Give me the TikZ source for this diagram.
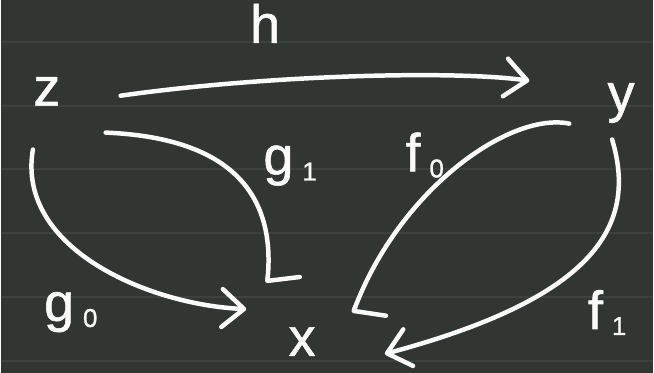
\documentclass[tikz,border=0pt]{standalone}
\usepackage{fontspec}
\setmainfont{Liberation Sans}
\newfontfamily\chalkfont{Liberation Sans}[FakeBold=1.0]
\usetikzlibrary{arrows.meta}
\definecolor{boardbg}{HTML}{323633}
\definecolor{ruleline}{HTML}{3E423F}
\definecolor{chalk}{HTML}{FAFAFA}
\newcommand\lsub[1]{\,\raisebox{-6pt}{\fontsize{26}{26}\selectfont #1}}

\begin{document}
\begin{tikzpicture}[x=1pt, y=-1pt,
  obj/.style={font=\chalkfont\fontsize{54}{54}\selectfont, text=chalk, inner sep=0pt, anchor=base},
  lbl/.style={obj},
  map/.style={-{Straight Barb[length=22pt, width=38pt, round]}, line width=4.5pt, draw=chalk, line cap=round},
  hook/.style={-{Straight Barb[left, length=7pt, width=64pt, round]}, line width=4.5pt, draw=chalk, line cap=round},
]
  % ruled board
  \fill[boardbg] (0,0) rectangle (654,374);
  \foreach \y in {42,106,...,362}
    \draw[ruleline, line width=2pt] (0,\y) -- (654,\y);
  \useasboundingbox (0,0) rectangle (654,374);

  % objects
  \node[obj] (z) at (46,106)  {z};
  \node[obj] (y) at (622,112) {y};
  \node[obj] (x) at (302,357) {x};

  % map labels
  \node[lbl] (h)  at (265,43)  {h};
  \node[lbl] (g0) at (70,322)  {g\lsub{0}};
  \node[lbl] (g1) at (290,175) {g\lsub{1}};
  \node[lbl] (f0) at (425,172) {f\lsub{0}};
  \node[lbl] (f1) at (608,330) {f\lsub{1}};

  % ends of the arrows
  \coordinate (zh)  at (120,96);
  \coordinate (yh)  at (530,81);
  \coordinate (zg0) at (32,150);
  \coordinate (xg0) at (246,310);
  \coordinate (zg1) at (105,133);
  \coordinate (xg1) at (267,284);
  \coordinate (yf0) at (570,124);
  \coordinate (xf0) at (353,314);
  \coordinate (yf1) at (613,140);
  \coordinate (xf1) at (385,355);

  \draw[map]  (zh)  .. controls (260,76) and (450,70) .. (yh);
  \draw[map]  (zg0) .. controls (15,250) and (150,306) .. (xg0);
  \draw[hook] (zg1) .. controls (225,138) and (276,190) .. (xg1);
  \draw[hook] (yf0) .. controls (510,112) and (400,190) .. (xf0);
  \draw[map]  (yf1) .. controls (640,230) and (590,300) .. (xf1);
\end{tikzpicture}
\end{document}
